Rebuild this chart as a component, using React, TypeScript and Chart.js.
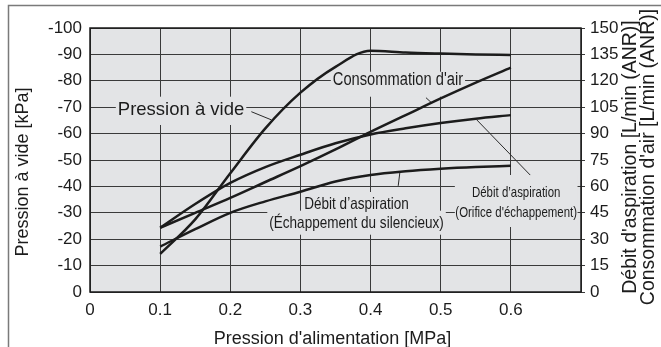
import React, { useEffect, useRef } from 'react';
import { Chart, registerables } from 'chart.js';

Chart.register(...registerables);

// ---- Data ----
const supplyPressure = [0.1, 0.15, 0.2, 0.25, 0.3, 0.35, 0.4, 0.45, 0.5, 0.55, 0.6]; // MPa
const vacuumPressure = [-14.4, -27.5, -45, -62, -75.5, -85.3, -91.4, -90.7, -90.3, -90, -89.8]; // kPa
const airConsumption = [36.5, 45, 53.5, 62.5, 71.5, 81, 91, 100.5, 110, 119, 127.5]; // L/min (ANR)
const suctionFlowExhaustPort = [36.5, 50, 62, 71, 78, 84.5, 89.5, 93, 96, 98.5, 100.5]; // L/min (ANR)
const suctionFlowSilencer = [25.8, 35.7, 45, 51.5, 57, 62.8, 66.5, 68.6, 70, 71, 71.7]; // L/min (ANR)

const xTickLabels = ['0', '0.1', '0.2', '0.3', '0.4', '0.5', '0.6'];

const xTitle = "Pression d'alimentation [MPa]";
const leftTitle = 'Pression à vide [kPa]';
const rightTitles = ["Débit d'aspiration [L/min (ANR)]", "Consommation d'air [L/min (ANR)]"];

// ---- Styles ----
const FONT = "'Liberation Sans', Arial, Helvetica, sans-serif";
const NARROW = "'Liberation Sans Narrow', 'Arial Narrow', 'Liberation Sans', Arial, sans-serif";
const PLOT_BG = '#e3e4e6';
const INK = '#1c1c1c';
const GRID = '#3a3a3a';

// annotation anchors in data coordinates (x: MPa, y: kPa, baseline of first line)
const annotations = [
  { lines: ['Pression à vide'], x: 0.1298, y: -67.05, size: 18.5, sx: 1, gap: 0, box: 'union', padX: 2, padTop: 18.3, padBottom: 10 },
  { lines: ["Consommation d'air"], x: 0.439, y: -78.4, size: 17.5, sx: 0.84, gap: 0, box: 'union', padX: 2, padTop: 13.3, padBottom: 11.7 },
  { lines: ['Débit d’aspiration', '(Échappement du silencieux)'], x: 0.38, y: -31.44, size: 16.5, sx: 0.82, gap: 18.7, box: 'line', padX: 2, padTop: 17, padBottom: 7 },
  { lines: ['Débit d’aspiration', "(Orifice d'échappement)"], x: 0.6076, y: -36.1, size: 14.3, sx: 0.8, gap: 20, box: 'union', padX: 0.5, padTop: 21.7, padBottom: 10.3 },
];

const leaders = [
  [0.23, -68.3, 0.2586, -65.2],
  [0.479, -73.6, 0.4876, -71.5],
  [0.5514, -65.2, 0.6276, -44.3],
  [0.4419, -45.6, 0.4394, -40.2],
];

const decorPlugin = {
  id: 'decor',
  beforeDraw(chart: any) {
    const { ctx, chartArea: a } = chart;
    ctx.save();
    ctx.fillStyle = '#ffffff';
    ctx.fillRect(0, 0, chart.width, chart.height);
    ctx.fillStyle = PLOT_BG;
    ctx.fillRect(a.left, a.top, a.right - a.left, a.bottom - a.top);
    ctx.strokeStyle = '#7a7a7a';
    ctx.lineWidth = 1.5;
    ctx.beginPath();
    ctx.moveTo(8.5, chart.height);
    ctx.lineTo(8.5, 5.5);
    ctx.lineTo(chart.width, 5.5);
    ctx.stroke();
    ctx.restore();
  },
  beforeDatasetsDraw(chart: any) {
    const { ctx } = chart;
    const xs = chart.scales.x;
    const ys = chart.scales.y;
    ctx.save();
    for (const lab of annotations) {
      const cx = xs.getPixelForValue(lab.x);
      const by = ys.getPixelForValue(lab.y);
      ctx.font = `${lab.size}px ${FONT}`;
      const widths = lab.lines.map((t) => ctx.measureText(t).width * lab.sx);
      ctx.fillStyle = PLOT_BG;
      if (lab.box === 'union') {
        const w = Math.max(...widths) + 2 * lab.padX;
        const top = by - lab.padTop;
        const bottom = by + (lab.lines.length - 1) * lab.gap + lab.padBottom;
        ctx.fillRect(cx - w / 2, top, w, bottom - top);
      } else {
        lab.lines.forEach((_, i) => {
          const w = widths[i] + 2 * lab.padX;
          const b = by + i * lab.gap;
          ctx.fillRect(cx - w / 2, b - lab.padTop, w, lab.padTop + lab.padBottom);
        });
      }
      ctx.fillStyle = INK;
      ctx.textAlign = 'center';
      ctx.textBaseline = 'alphabetic';
      lab.lines.forEach((t, i) => {
        ctx.save();
        ctx.translate(cx, by + i * lab.gap);
        ctx.scale(lab.sx, 1);
        ctx.fillText(t, 0, 0);
        ctx.restore();
      });
    }
    ctx.strokeStyle = '#2a2a2a';
    ctx.lineWidth = 1;
    for (const [x1, y1, x2, y2] of leaders) {
      ctx.beginPath();
      ctx.moveTo(xs.getPixelForValue(x1), ys.getPixelForValue(y1));
      ctx.lineTo(xs.getPixelForValue(x2), ys.getPixelForValue(y2));
      ctx.stroke();
    }
    ctx.restore();
  },
  afterDatasetsDraw(chart: any) {
    const { ctx, chartArea: a } = chart;
    ctx.save();
    ctx.strokeStyle = '#1a1a1a';
    ctx.lineWidth = 1.5;
    ctx.strokeRect(a.left, a.top, a.right - a.left, a.bottom - a.top);
    ctx.restore();
  },
  afterDraw(chart: any) {
    const { ctx, chartArea: a } = chart;
    ctx.save();
    ctx.fillStyle = INK;
    ctx.font = `18px ${FONT}`;
    ctx.textAlign = 'center';
    ctx.textBaseline = 'alphabetic';
    ctx.fillText(xTitle, (a.left + a.right) / 2 - 3, 344);
    // left title
    ctx.save();
    ctx.translate(28, 172);
    ctx.rotate(-Math.PI / 2);
    ctx.fillText(leftTitle, 0, 0);
    ctx.restore();
    // right titles
    ctx.font = `19.5px ${FONT}`;
    const bx = [636, 654];
    rightTitles.forEach((t, i) => {
      ctx.save();
      ctx.translate(bx[i], 157);
      ctx.rotate(-Math.PI / 2);
      ctx.fillText(t, 0, 0);
      ctx.restore();
    });
    ctx.restore();
  },
};

export default function App() {
  const ref = useRef<HTMLCanvasElement | null>(null);
  useEffect(() => {
    if (!ref.current) return;
    const mk = (ys: number[]) => supplyPressure.map((x, i) => ({ x, y: ys[i] }));
    const lineStyle = {
      borderColor: INK,
      borderWidth: 2.5,
      pointRadius: 0,
      fill: false,
      cubicInterpolationMode: 'monotone' as const,
    };
    const chart = new Chart(ref.current, {
      type: 'line',
      data: {
        datasets: [
          { label: 'Pression à vide', data: mk(vacuumPressure), yAxisID: 'y', ...lineStyle },
          { label: "Consommation d'air", data: mk(airConsumption), yAxisID: 'y2', ...lineStyle },
          { label: "Débit d'aspiration (Orifice d'échappement)", data: mk(suctionFlowExhaustPort), yAxisID: 'y2', ...lineStyle },
          { label: "Débit d'aspiration (Échappement du silencieux)", data: mk(suctionFlowSilencer), yAxisID: 'y2', ...lineStyle },
        ],
      },
      options: {
        responsive: false,
        animation: false,
        devicePixelRatio: 1,
        layout: { padding: { top: 28, left: 0, right: 0, bottom: 0 } },
        plugins: { legend: { display: false }, tooltip: { enabled: false } },
        scales: {
          x: {
            type: 'linear',
            min: 0,
            max: 0.7,
            afterFit: (s: any) => { s.height = 55; },
            ticks: {
              stepSize: 0.1,
              autoSkip: false,
              maxRotation: 0,
              padding: 8,
              color: INK,
              font: { family: FONT, size: 17 },
              callback: (v: any) => {
                const i = Math.round(Number(v) * 10);
                return xTickLabels[i] ?? '';
              },
            },
            grid: { color: GRID, lineWidth: 1, drawTicks: false },
            border: { display: false },
          },
          y: {
            position: 'left',
            min: -100,
            max: 0,
            reverse: true,
            afterFit: (s: any) => { s.width = 90; },
            ticks: {
              stepSize: 10,
              padding: 8,
              color: INK,
              font: { family: FONT, size: 17 },
              callback: (v: any) => String(Math.round(Number(v))),
            },
            grid: { color: GRID, lineWidth: 1, drawTicks: false },
            border: { display: false },
          },
          y2: {
            position: 'right',
            min: 0,
            max: 150,
            afterFit: (s: any) => { s.width = 80; },
            ticks: {
              stepSize: 15,
              padding: 5,
              color: INK,
              font: { family: NARROW, size: 17 },
              callback: (v: any) => String(Math.round(Number(v))),
            },
            grid: { drawOnChartArea: false, drawTicks: true, tickLength: 4, color: GRID, lineWidth: 1 },
            border: { display: false },
          },
        },
      },
      plugins: [decorPlugin],
    });
    return () => chart.destroy();
  }, []);
  return (
    <div style={{ position: 'fixed', left: 0, top: 0, width: 661, height: 347, background: '#fff' }}>
      <canvas ref={ref} width={661} height={347} style={{ display: 'block', width: 661, height: 347 }} />
    </div>
  );
}
